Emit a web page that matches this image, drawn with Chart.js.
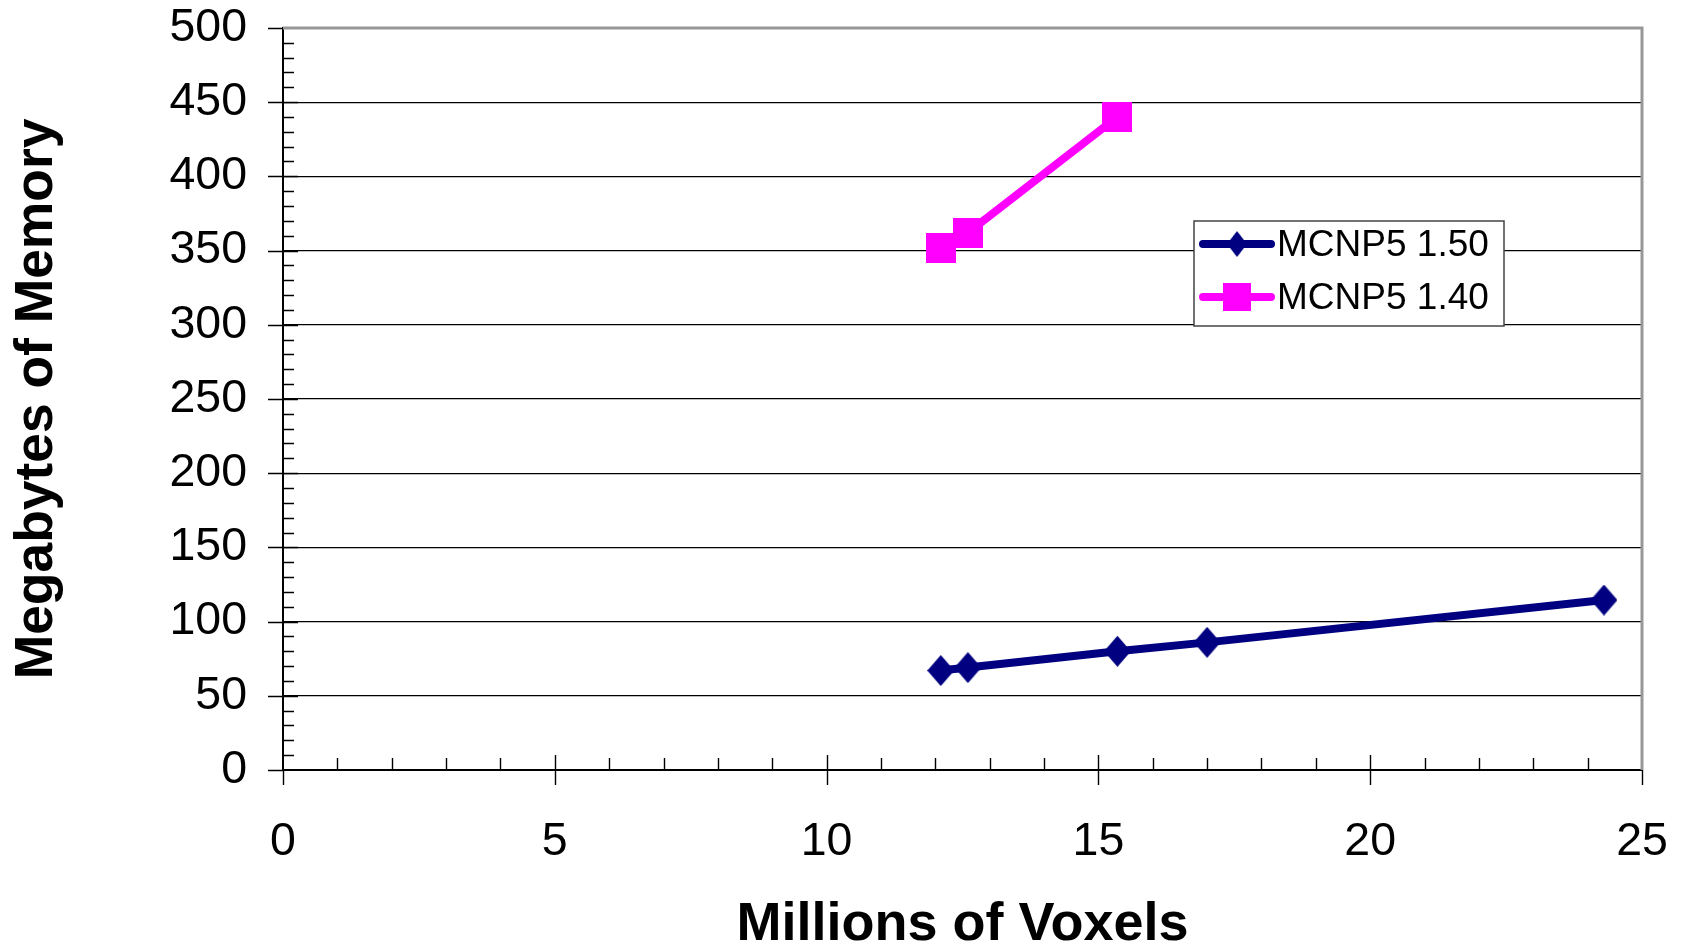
<!DOCTYPE html>
<html>
<head>
<meta charset="utf-8">
<script src="https://cdn.jsdelivr.net/npm/chart.js@4.4.0/dist/chart.umd.min.js"></script>
<style>
  html, body { margin: 0; padding: 0; background: #fff; }
  #wrap { width: 1682px; height: 945px; }
</style>
</head>
<body>
<div id="wrap"><canvas id="myChart" width="1682" height="945"></canvas></div>
<script>
// datos
const series = ["MCNP5 1.50", "MCNP5 1.40"];
const voxels150 = [12.1, 12.6, 15.35, 17.0, 24.3];
const memoria150 = [67, 69, 80, 86, 114.5];
const voxels140 = [12.1, 12.6, 15.35];
const memoria140 = [352, 362, 440];
const ticksX = [0, 5, 10, 15, 20, 25];
const ticksY = [0, 50, 100, 150, 200, 250, 300, 350, 400, 450, 500];

const AZUL = "#000080";
const ROSA = "#FF00FF";
const FUENTE = "'Liberation Sans', Arial, sans-serif";

// marcadores
const hacerRombo = (w, h, color) => {
  const c = document.createElement("canvas");
  c.width = w; c.height = h;
  const g = c.getContext("2d");
  g.fillStyle = color;
  g.beginPath();
  g.moveTo(w / 2, 0); g.lineTo(w, h / 2); g.lineTo(w / 2, h); g.lineTo(0, h / 2);
  g.closePath(); g.fill();
  return c;
};
const hacerCuadro = (s, color) => {
  const c = document.createElement("canvas");
  c.width = s; c.height = s;
  const g = c.getContext("2d");
  g.fillStyle = color;
  g.fillRect(0, 0, s, s);
  return c;
};
const rombo = hacerRombo(27, 31, AZUL);
const cuadro = hacerCuadro(30, ROSA);

const puntos = (xs, ys) => xs.map((x, i) => ({ x: x, y: ys[i] }));

//***************** TICKS, BORDES Y LEYENDA **************/
const extras = {
  id: "extras",
  afterDraw(chart) {
    const { ctx, chartArea: a, scales } = chart;
    ctx.save();
    // borde superior y derecho
    ctx.strokeStyle = "#979797";
    ctx.lineWidth = 3;
    ctx.beginPath();
    ctx.moveTo(a.left, a.top);
    ctx.lineTo(a.right, a.top);
    ctx.lineTo(a.right, a.bottom);
    ctx.stroke();

    ctx.strokeStyle = "#000";
    ctx.lineWidth = 1.4;
    ctx.beginPath();
    // ticks mayores hacia fuera
    ticksX.forEach((v) => {
      const px = Math.round(scales.x.getPixelForValue(v)) + 0.5;
      ctx.moveTo(px, a.bottom);
      ctx.lineTo(px, a.bottom + 15);
    });
    ticksY.forEach((v) => {
      const py = Math.round(scales.y.getPixelForValue(v)) + 0.5;
      ctx.moveTo(a.left, py);
      ctx.lineTo(a.left - 15, py);
    });
    // ticks hacia dentro
    for (let v = 1; v < 25; v++) {
      const px = Math.round(scales.x.getPixelForValue(v)) + 0.5;
      const len = v % 5 === 0 ? 15 : 12;
      ctx.moveTo(px, a.bottom);
      ctx.lineTo(px, a.bottom - len);
    }
    for (let v = 10; v < 500; v += 10) {
      const py = Math.round(scales.y.getPixelForValue(v)) + 0.5;
      const len = v % 50 === 0 ? 15 : 11;
      ctx.moveTo(a.left, py);
      ctx.lineTo(a.left + len, py);
    }
    ctx.stroke();

    // leyenda
    const L = { x: 1194, y: 221, w: 310, h: 105 };
    ctx.fillStyle = "#fff";
    ctx.fillRect(L.x, L.y, L.w, L.h);
    ctx.strokeStyle = "#444";
    ctx.lineWidth = 1.5;
    ctx.strokeRect(L.x, L.y, L.w, L.h);
    chart.data.datasets.forEach((ds, i) => {
      const yy = L.y + 23 + i * 53;
      ctx.strokeStyle = ds.borderColor;
      ctx.lineWidth = 8;
      ctx.lineCap = "round";
      ctx.beginPath();
      ctx.moveTo(L.x + 9, yy);
      ctx.lineTo(L.x + 77, yy);
      ctx.stroke();
      const img = ds.pointStyle;
      if (i === 0) {
        ctx.drawImage(img, L.x + 43 - 10, yy - 13, 20, 26);
      } else {
        ctx.drawImage(img, L.x + 43 - 14, yy - 14, 28, 28);
      }
      ctx.fillStyle = "#000";
      ctx.font = "37px " + FUENTE;
      ctx.textBaseline = "middle";
      ctx.textAlign = "left";
      ctx.fillText(ds.label, L.x + 83, yy + 2);
    });
    ctx.restore();
  },
};

const ctx = document.getElementById("myChart");

new Chart(ctx, {
  type: "scatter",
  data: {
    datasets: [
      {
        label: series[0],
        data: puntos(voxels150, memoria150),
        showLine: true,
        borderColor: AZUL,
        backgroundColor: AZUL,
        borderWidth: 8,
        borderCapStyle: "round",
        pointStyle: rombo,
        pointRadius: 15,
      },
      {
        label: series[1],
        data: puntos(voxels140, memoria140),
        showLine: true,
        borderColor: ROSA,
        backgroundColor: ROSA,
        borderWidth: 8,
        borderCapStyle: "round",
        pointStyle: cuadro,
        pointRadius: 15,
      },
    ],
  },
  options: {
    responsive: false,
    animation: false,
    layout: { padding: { top: 27, right: 40, left: 0, bottom: 0 } },
    plugins: {
      legend: { display: false },
      tooltip: { enabled: false },
    },
    scales: {
      x: {
        type: "linear",
        min: 0,
        max: 25,
        afterBuildTicks: (s) => { s.ticks = ticksX.map((v) => ({ value: v })); },
        afterFit: (s) => { s.height = 175; },
        grid: {
          drawOnChartArea: false,
          tickLength: 44,
          tickColor: "rgba(0,0,0,0)",
        },
        border: { color: "#000", width: 2 },
        ticks: {
          color: "#000",
          padding: 0,
          font: { family: FUENTE, size: 46.5 },
        },
        title: {
          display: true,
          text: "Millions of Voxels",
          color: "#000",
          font: { family: FUENTE, size: 54, weight: "bold", lineHeight: 0.75 },
          padding: { top: 0, bottom: 0 },
        },
      },
      y: {
        min: 0,
        max: 500,
        afterBuildTicks: (s) => { s.ticks = ticksY.map((v) => ({ value: v })); },
        afterFit: (s) => { s.width = 283; },
        grid: {
          color: (c) => (c.tick && c.tick.value === 500 ? "rgba(0,0,0,0)" : "#000"),
          lineWidth: 1.2,
          tickLength: 36,
          tickColor: "rgba(0,0,0,0)",
        },
        border: { color: "#000", width: 2 },
        ticks: {
          color: "#000",
          padding: 0,
          font: { family: FUENTE, size: 46.5 },
        },
        title: {
          display: true,
          text: "Megabytes of Memory",
          color: "#000",
          font: { family: FUENTE, size: 53.4, weight: "bold", lineHeight: 1.2 },
          padding: { top: 5, bottom: 0 },
        },
      },
    },
  },
  plugins: [extras],
});
</script>
</body>
</html>
